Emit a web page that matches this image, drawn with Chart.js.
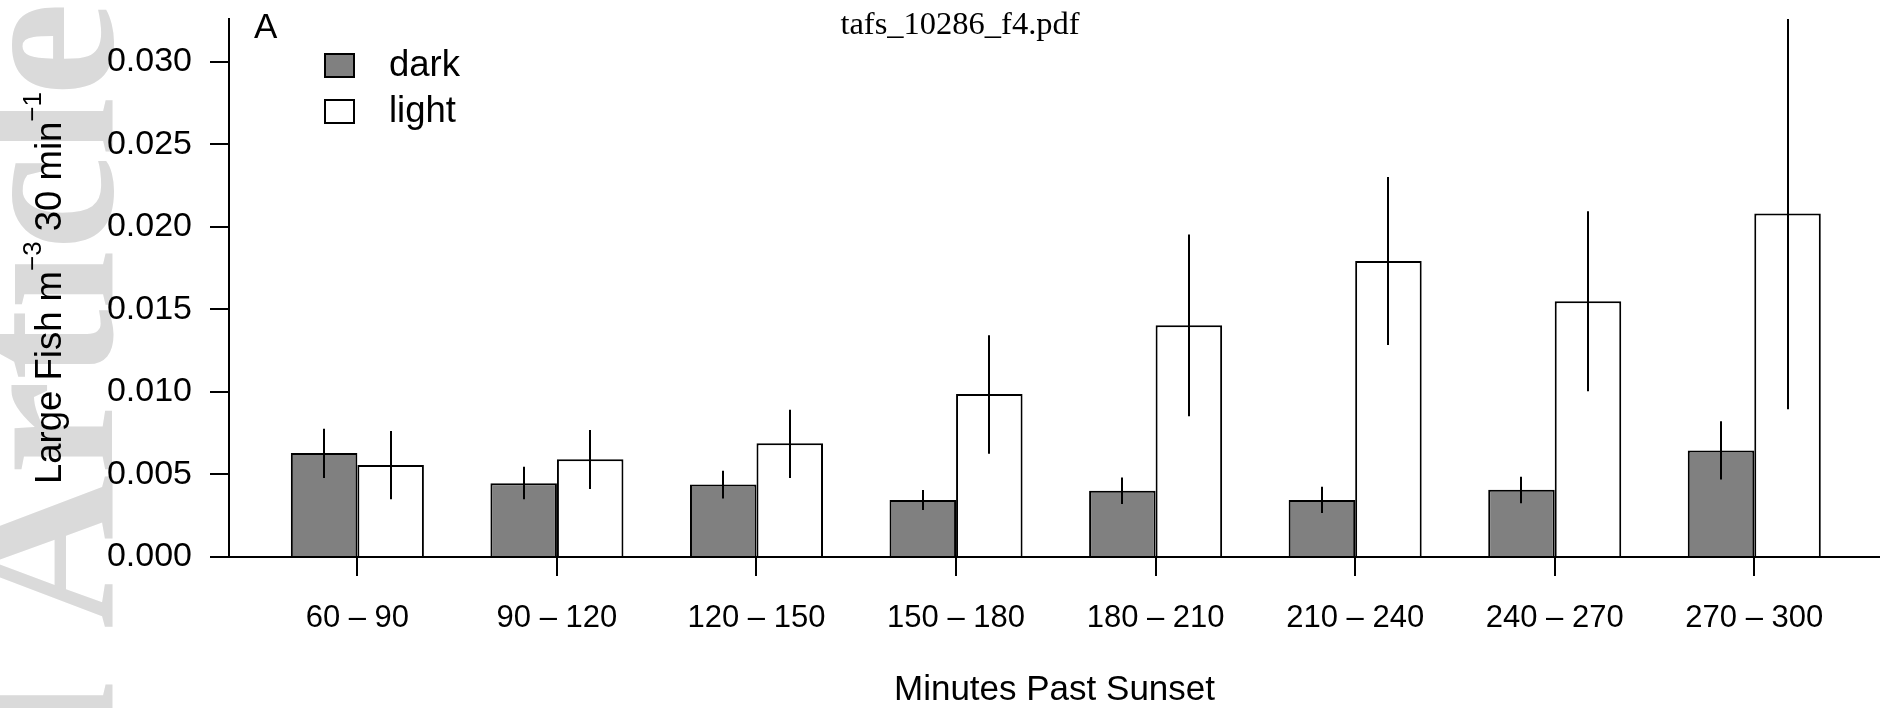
<!DOCTYPE html>
<html><head><meta charset="utf-8">
<script src="https://cdn.jsdelivr.net/npm/chart.js@4/dist/chart.umd.min.js"></script>
<style>html,body{margin:0;padding:0;background:#fff;overflow:hidden}canvas{display:block}</style>
</head><body>
<canvas id="c" width="1880" height="708"></canvas>
<script>
// ---- data ----
const categories = ['60 – 90', '90 – 120', '120 – 150', '150 – 180', '180 – 210', '210 – 240', '240 – 270', '270 – 300'];
const seriesNames = ['dark', 'light'];
const darkMean  = [0.00630, 0.00447, 0.00439, 0.00346, 0.00401, 0.00346, 0.00407, 0.00646];
const darkLow   = [0.00478, 0.00350, 0.00354, 0.00285, 0.00321, 0.00267, 0.00326, 0.00470];
const darkHigh  = [0.00777, 0.00547, 0.00523, 0.00406, 0.00481, 0.00426, 0.00486, 0.00823];
const lightMean = [0.00557, 0.00592, 0.00689, 0.00988, 0.01404, 0.01794, 0.01550, 0.02082];
const lightLow  = [0.00350, 0.00412, 0.00479, 0.00626, 0.00853, 0.01284, 0.01005, 0.00895];
const lightHigh = [0.00764, 0.00770, 0.00893, 0.01343, 0.01954, 0.02303, 0.02095, 0.03260];
const yTickValues = [0.000, 0.005, 0.010, 0.015, 0.020, 0.025, 0.030];
const chartTitle = 'tafs_10286_f4.pdf';
const panelLabel = 'A';
const xTitle = 'Minutes Past Sunset';
const yTitleParts = [
  {t: 'Large Fish m'}, {t: '−3', sup: true}, {t: ' 30 min'}, {t: '−1', sup: true}
];
const watermarkText = 'Accepted Article';

// ---- layout / style ----
const FONT = '"Liberation Sans", Arial, Helvetica, sans-serif';
const SERIF = '"Liberation Serif", "Times New Roman", serif';
const groupCenter = i => 2 + 3 * i;   // barplot units: 2 bars + 1 gap per group

const watermarkPlugin = {
  id: 'watermark',
  beforeDraw(chart) {
    const ctx = chart.ctx;
    ctx.save();
    ctx.fillStyle = '#dadada';
    ctx.font = 'bold 213px ' + SERIF;
    ctx.translate(112, 2);
    ctx.rotate(-Math.PI / 2);
    ctx.textAlign = 'right';
    ctx.textBaseline = 'alphabetic';
    ctx.fillText(watermarkText, 0, 0);
    ctx.restore();
  }
};

const errorBarPlugin = {
  id: 'errorBars',
  afterDatasetsDraw(chart) {
    const ctx = chart.ctx, ys = chart.scales.y;
    ctx.save();
    ctx.strokeStyle = '#000';
    ctx.lineWidth = 2;
    chart.data.datasets.forEach((ds, d) => {
      const meta = chart.getDatasetMeta(d);
      meta.data.forEach((bar, i) => {
        const x = Math.round(bar.x);
        ctx.beginPath();
        ctx.moveTo(x, ys.getPixelForValue(ds.errLow[i]));
        ctx.lineTo(x, ys.getPixelForValue(ds.errHigh[i]));
        ctx.stroke();
      });
    });
    ctx.restore();
  }
};

const annotPlugin = {
  id: 'annot',
  afterDraw(chart) {
    const ctx = chart.ctx, area = chart.chartArea;
    ctx.save();
    // file title
    ctx.fillStyle = '#000';
    ctx.font = '32.5px ' + SERIF;
    ctx.textAlign = 'center';
    ctx.textBaseline = 'alphabetic';
    ctx.fillText(chartTitle, 960, 34);
    // panel label
    ctx.font = '35px ' + FONT;
    ctx.textAlign = 'left';
    ctx.fillText(panelLabel, 254, 38);
    // legend
    const boxes = [{y: 54}, {y: 100}];
    chart.data.datasets.forEach((ds, d) => {
      const by = boxes[d].y;
      ctx.fillStyle = ds.backgroundColor;
      ctx.fillRect(325, by, 29, 23);
      ctx.strokeStyle = '#000';
      ctx.lineWidth = 2;
      ctx.strokeRect(325, by, 29, 23);
      ctx.fillStyle = '#000';
      ctx.font = '36.5px ' + FONT;
      ctx.textBaseline = 'middle';
      ctx.fillText(ds.label, 389, by + 12);
    });
    // y-axis title with superscripts
    const main = 36.5, sup = 26, raise = 20;
    let total = 0;
    yTitleParts.forEach(p => {
      ctx.font = (p.sup ? sup : main) + 'px ' + FONT;
      p.w = ctx.measureText(p.t).width;
      total += p.w;
    });
    const cy = (area.top + area.bottom) / 2;
    ctx.translate(61, cy);
    ctx.rotate(-Math.PI / 2);
    ctx.textAlign = 'left';
    ctx.textBaseline = 'alphabetic';
    let x = -total / 2;
    yTitleParts.forEach(p => {
      ctx.font = (p.sup ? sup : main) + 'px ' + FONT;
      ctx.fillText(p.t, x, p.sup ? -raise : 0);
      x += p.w;
    });
    ctx.restore();
  }
};

new Chart(document.getElementById('c'), {
  type: 'bar',
  data: {
    datasets: [
      {
        label: seriesNames[0],
        data: darkMean.map((v, i) => ({x: groupCenter(i), y: v})),
        errLow: darkLow, errHigh: darkHigh,
        backgroundColor: '#808080', borderColor: '#000', borderWidth: 2
      },
      {
        label: seriesNames[1],
        data: lightMean.map((v, i) => ({x: groupCenter(i), y: v})),
        errLow: lightLow, errHigh: lightHigh,
        backgroundColor: '#ffffff', borderColor: '#000', borderWidth: 2
      }
    ]
  },
  options: {
    responsive: false,
    animation: false,
    devicePixelRatio: 1,
    categoryPercentage: 2 / 3,
    barPercentage: 1,
    layout: {padding: {top: 19, right: 0, left: 0, bottom: 0}},
    plugins: {legend: {display: false}, tooltip: {enabled: false}, title: {display: false}},
    scales: {
      x: {
        type: 'linear', min: 0.07, max: 24.89, offset: false,
        afterBuildTicks: s => { s.ticks = categories.map((c, i) => ({value: groupCenter(i)})); },
        afterFit: s => { s.height = 151; s.paddingLeft = 0; s.paddingRight = 0; },
        ticks: {
          callback: (v, i) => categories[i], autoSkip: false, maxRotation: 0, minRotation: 0,
          color: '#000', font: {family: FONT, size: 31}, padding: 24
        },
        grid: {offset: false, drawOnChartArea: false, drawTicks: true, tickLength: 19, color: '#000', lineWidth: 2},
        border: {display: true, color: '#000', width: 2},
        title: {display: true, text: xTitle, color: '#000', font: {family: FONT, size: 35, lineHeight: 1}, padding: {top: 0, bottom: 0}}
      },
      y: {
        min: 0, max: 0.0326,
        afterBuildTicks: s => { s.ticks = yTickValues.map(v => ({value: v})); },
        afterFit: s => { s.width = 229; s.paddingTop = 0; s.paddingBottom = 0; },
        ticks: {callback: v => v.toFixed(3), color: '#000', font: {family: FONT, size: 34}, padding: 18},
        grid: {drawOnChartArea: false, drawTicks: true, tickLength: 19, color: '#000', lineWidth: 2},
        border: {display: true, color: '#000', width: 2}
      }
    }
  },
  plugins: [watermarkPlugin, errorBarPlugin, annotPlugin]
});
</script>
</body></html>
